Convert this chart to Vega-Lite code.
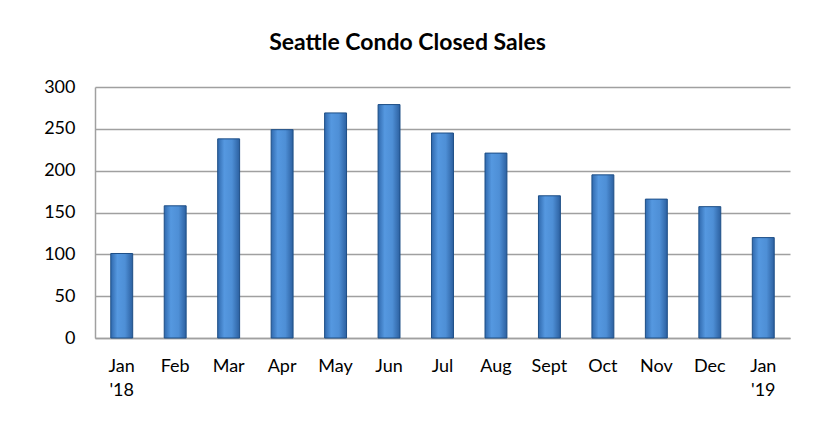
{
  "$schema": "https://vega.github.io/schema/vega-lite/v6.json",
  "width": 695,
  "height": 251,
  "autosize": {"type": "none"},
  "padding": {"left": 95, "top": 87, "right": 28, "bottom": 96},
  "background": "white",
  "title": {
    "text": "Seattle Condo Closed Sales",
    "font": "Lato",
    "fontSize": 23,
    "fontWeight": "bold",
    "color": "black",
    "anchor": "middle",
    "dx": -35,
    "offset": 23
  },
  "data": {
    "values": [
      {"month": "Jan '18", "sales": 101},
      {"month": "Feb", "sales": 158},
      {"month": "Mar", "sales": 238},
      {"month": "Apr", "sales": 249},
      {"month": "May", "sales": 269},
      {"month": "Jun", "sales": 279},
      {"month": "Jul", "sales": 245},
      {"month": "Aug", "sales": 221},
      {"month": "Sept", "sales": 170},
      {"month": "Oct", "sales": 195},
      {"month": "Nov", "sales": 166},
      {"month": "Dec", "sales": 157},
      {"month": "Jan '19", "sales": 120}
    ]
  },
  "mark": {
    "type": "bar",
    "stroke": "#1d4e86",
    "strokeWidth": 1,
    "fill": {
      "gradient": "linear",
      "x1": 0, "y1": 0, "x2": 1, "y2": 0,
      "stops": [
        {"offset": 0, "color": "#3069ad"},
        {"offset": 0.3, "color": "#5598e0"},
        {"offset": 0.65, "color": "#4e8fd6"},
        {"offset": 1, "color": "#2c60a0"}
      ]
    }
  },
  "encoding": {
    "x": {
      "field": "month",
      "type": "nominal",
      "sort": null,
      "scale": {"paddingInner": 0.59, "paddingOuter": 0.295},
      "axis": {
        "title": null,
        "labelAngle": 0,
        "labelExpr": "split(datum.label, ' ')",
        "labelLineHeight": 24,
        "labelFont": "Lato",
        "labelFontSize": 18,
        "labelColor": "black",
        "labelPadding": 19,
        "ticks": false,
        "domainColor": "#a0a0a0",
        "domainWidth": 1.5
      }
    },
    "y": {
      "field": "sales",
      "type": "quantitative",
      "scale": {"domain": [0, 300]},
      "axis": {
        "title": null,
        "values": [0, 50, 100, 150, 200, 250, 300],
        "labelFont": "Lato",
        "labelFontSize": 18,
        "labelColor": "black",
        "labelPadding": 20,
        "ticks": false,
        "grid": true,
        "gridColor": "#a0a0a0",
        "gridWidth": 1.5,
        "domainColor": "#a0a0a0",
        "domainWidth": 1.5
      }
    }
  },
  "config": {
    "view": {"stroke": null}
  }
}
